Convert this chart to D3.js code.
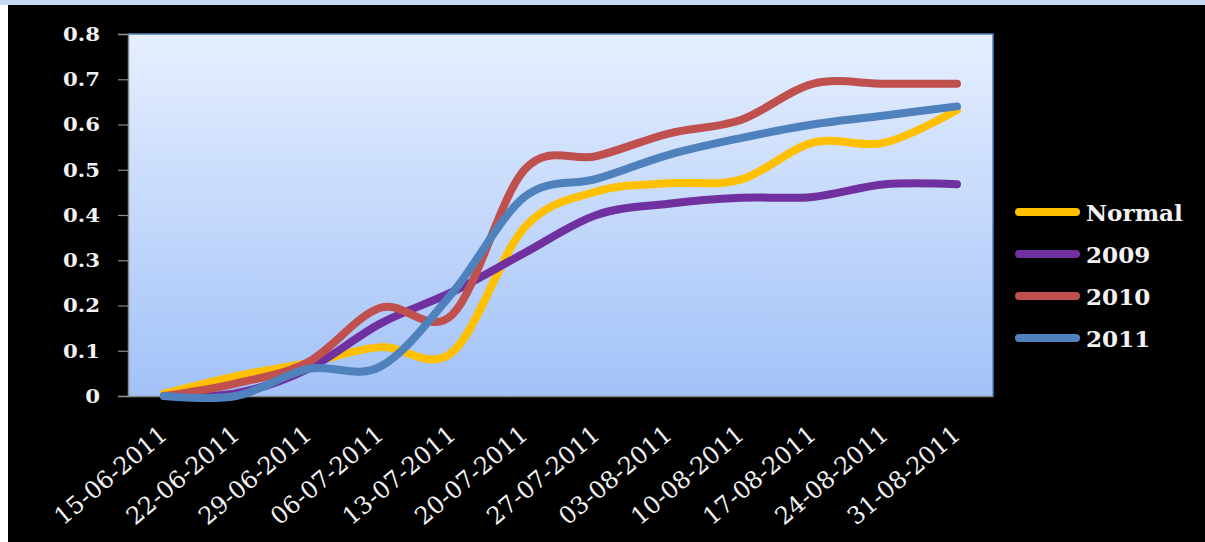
<!DOCTYPE html>
<html>
<head>
<meta charset="utf-8">
<script src="https://cdn.jsdelivr.net/npm/d3@7"></script>
<style>
  html, body { margin: 0; padding: 0; background: #000; }
  svg { display: block; }
</style>
</head>
<body>
<svg id="chart" width="1205" height="542"></svg>
<script>
// Weekly dates (x categories)
const dates = ["15-06-2011","22-06-2011","29-06-2011","06-07-2011","13-07-2011","20-07-2011",
               "27-07-2011","03-08-2011","10-08-2011","17-08-2011","24-08-2011","31-08-2011"];

// Cumulative values per series
const normal = [0.005, 0.044, 0.073, 0.108, 0.097, 0.372, 0.452, 0.470, 0.478, 0.560, 0.560, 0.632];
const y2009  = [0.000, 0.006, 0.060, 0.160, 0.230, 0.316, 0.400, 0.425, 0.438, 0.440, 0.468, 0.468];
const y2010  = [0.000, 0.028, 0.075, 0.195, 0.180, 0.500, 0.530, 0.580, 0.610, 0.690, 0.690, 0.690];
const y2011  = [0.000, 0.000, 0.060, 0.065, 0.228, 0.440, 0.480, 0.533, 0.570, 0.600, 0.620, 0.640];

const seriesNames = ["Normal", "2009", "2010", "2011"];
const seriesColors = ["#ffc000", "#7030a0", "#c0504d", "#4f81bd"];
const yTicks = [0, 0.1, 0.2, 0.3, 0.4, 0.5, 0.6, 0.7, 0.8];

const series = [normal, y2009, y2010, y2011].map((vals, i) => ({
  name: seriesNames[i], color: seriesColors[i], values: vals
}));

const FONT = "'DejaVu Serif', 'Liberation Serif', serif";
const svg = d3.select("#chart");
const W = 1205, H = 542;
const plot = { left: 128, right: 993, top: 34, bottom: 396 };

// page frame: light band on top, white margin on the left
svg.append("rect").attr("x", 0).attr("y", 0).attr("width", W).attr("height", H).attr("fill", "#000");
svg.append("rect").attr("x", 0).attr("y", 0).attr("width", 8).attr("height", H).attr("fill", "#ffffff");
svg.append("rect").attr("x", 0).attr("y", 0).attr("width", W).attr("height", 5).attr("fill", "#c6d9f1");

// plot background gradient
const defs = svg.append("defs");
const grad = defs.append("linearGradient").attr("id", "plotBg")
  .attr("x1", 0).attr("y1", 0).attr("x2", 0).attr("y2", 1);
grad.append("stop").attr("offset", "0%").attr("stop-color", "#e6effe");
grad.append("stop").attr("offset", "100%").attr("stop-color", "#a2c2f8");

const x = d3.scaleBand().domain(dates).range([plot.left, plot.right]);
const y = d3.scaleLinear().domain([0, 0.8]).range([plot.bottom, plot.top]);

svg.append("rect")
  .attr("x", plot.left).attr("y", plot.top)
  .attr("width", plot.right - plot.left).attr("height", plot.bottom - plot.top)
  .attr("fill", "url(#plotBg)");

// plot border: blue on top and right
svg.append("path")
  .attr("d", `M${plot.left},${plot.top}H${plot.right}V${plot.bottom}`)
  .attr("fill", "none").attr("stroke", "#4f81bd").attr("stroke-width", 1.5);

// Y axis
const fmt = d => d === 0 ? "0" : d3.format(".1f")(d);
const yAxis = d3.axisLeft(y).tickValues(yTicks).tickSize(10).tickFormat(fmt);
const gy = svg.append("g").attr("transform", `translate(${plot.left},0)`).call(yAxis);
gy.select(".domain").attr("stroke", "#8c8c8c").attr("stroke-width", 1.5);
gy.selectAll(".tick line").attr("stroke", "#8c8c8c").attr("stroke-width", 1.2);
gy.selectAll(".tick text").remove();
gy.selectAll(".tick").append("text")
  .attr("transform", "translate(-28,0) scale(1.18,1)")
  .attr("text-anchor", "end")
  .attr("dy", "0.36em")
  .attr("fill", "#f2f2f2")
  .attr("font-family", FONT)
  .attr("font-weight", "bold")
  .attr("font-size", 18)
  .text(fmt);

// X axis
const xAxis = d3.axisBottom(x).tickSize(0).tickSizeOuter(0);
const gx = svg.append("g").attr("transform", `translate(0,${plot.bottom})`).call(xAxis);
gx.select(".domain").attr("stroke", "#8c8c8c").attr("stroke-width", 1.5);
gx.selectAll(".tick text").remove();
gx.selectAll(".tick").append("text")
  .attr("transform", "translate(5,41) rotate(-40)")
  .attr("text-anchor", "end")
  .attr("fill", "#f2f2f2")
  .attr("font-family", FONT)
  .attr("font-size", 24)
  .text(d => d);

// Lines
const line = d3.line()
  .x((d, i) => x(dates[i]) + x.bandwidth() / 2)
  .y(d => y(d))
  .curve(d3.curveCardinal.tension(0));

svg.append("g").selectAll("path")
  .data(series)
  .join("path")
  .attr("d", d => line(d.values))
  .attr("fill", "none")
  .attr("stroke", d => d.color)
  .attr("stroke-width", 8)
  .attr("stroke-linecap", "round")
  .attr("stroke-linejoin", "round");

// Legend
const legend = svg.append("g").selectAll("g")
  .data(series)
  .join("g")
  .attr("transform", (d, i) => `translate(1019,${212 + i * 42})`);
legend.append("line")
  .attr("x1", 0).attr("x2", 57).attr("y1", 0).attr("y2", 0)
  .attr("stroke", d => d.color).attr("stroke-width", 8).attr("stroke-linecap", "round");
legend.append("text")
  .attr("transform", "translate(67,9) scale(1.05,1)")
  .attr("fill", "#f2f2f2")
  .attr("font-family", FONT)
  .attr("font-weight", "bold")
  .attr("font-size", 22)
  .text(d => d.name);
</script>
</body>
</html>
